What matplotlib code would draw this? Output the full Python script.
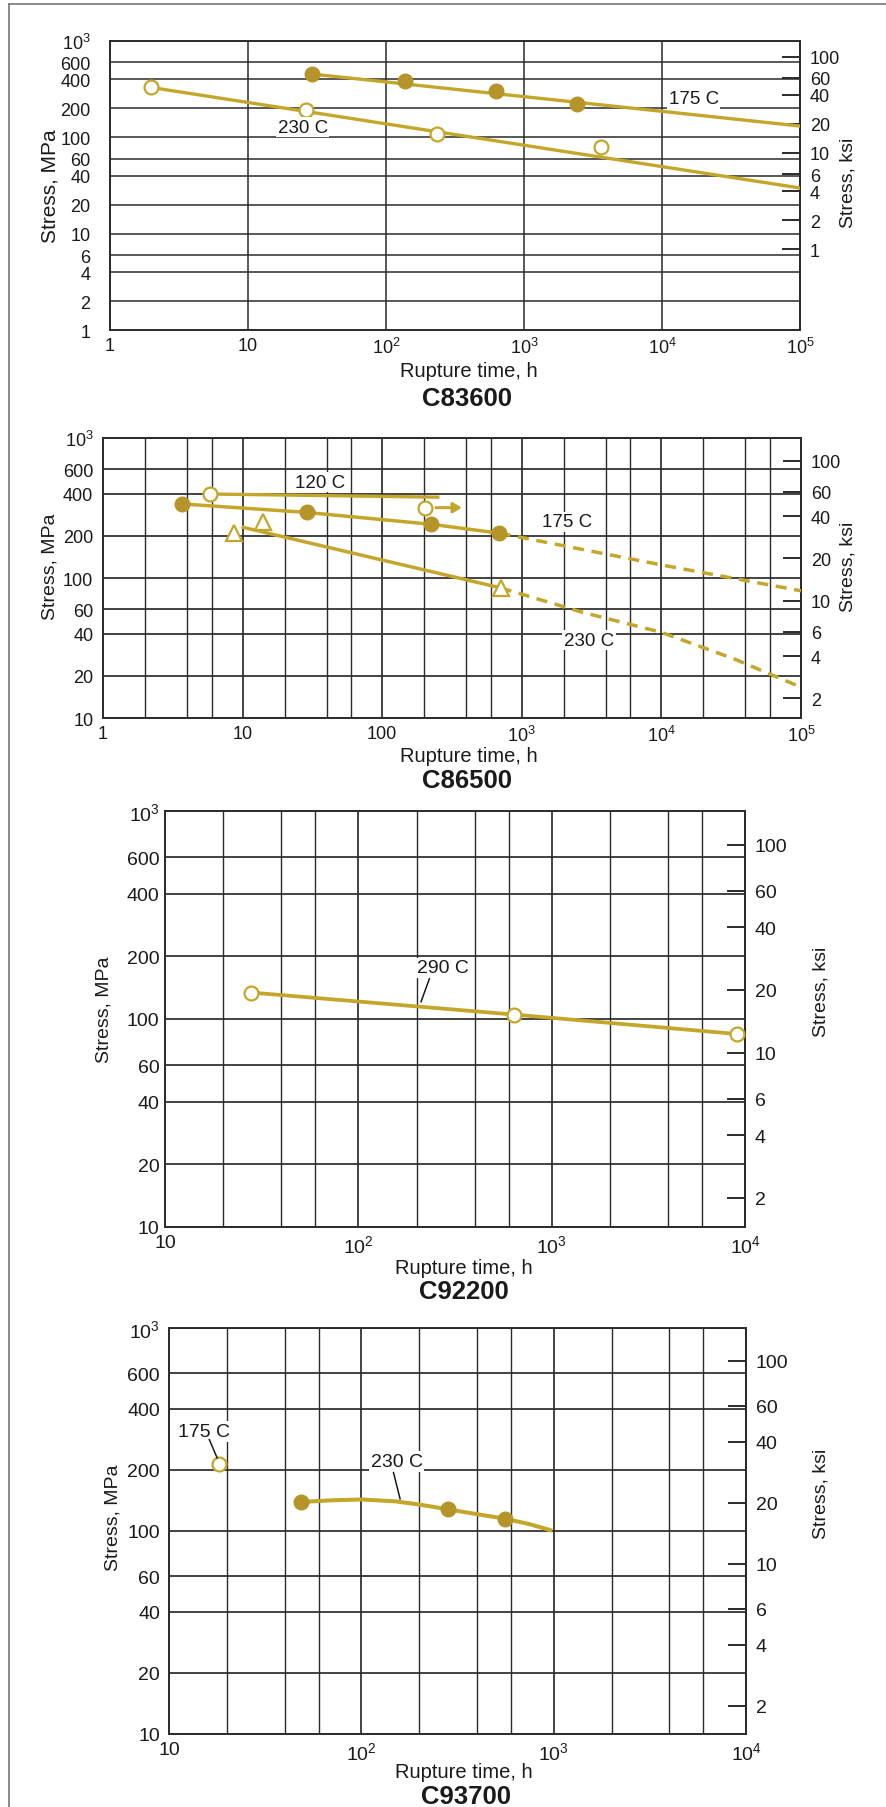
import numpy as np
import matplotlib
matplotlib.use("Agg")
import matplotlib.pyplot as plt
from matplotlib.lines import Line2D
from matplotlib.ticker import FixedLocator, NullLocator

plt.rcParams["font.family"] = ["Liberation Sans", "DejaVu Sans"]
plt.rcParams["mathtext.fontset"] = "custom"
plt.rcParams["mathtext.rm"] = "Liberation Sans"

W, H = 886, 1808
GOLD = "#c3a62a"
GOLD_DARK = "#b5952a"
GRID = "#2b2b2b"
MPA_PER_KSI = 6.895

# ---- C83600 ----
c836_175_t = [29, 137, 627, 2420]
c836_175_s = [454, 387, 301, 220]
c836_175_fit_t = [29, 1e5]
c836_175_fit_s = [454, 131]
c836_230_t = [1.97, 26.2, 233, 3590]
c836_230_s = [330, 194, 108, 79]
c836_230_fit_t = [1.97, 1e5]
c836_230_fit_s = [330, 29.8]

# ---- C86500 ----
c865_120_t = [5.84]
c865_120_s = [398]
c865_120_line_t = [5.84, 250]
c865_120_line_s = [398, 378]
c865_120_runout_t = [202]
c865_120_runout_s = [318]
c865_175_t = [3.7, 28.8, 224, 692]
c865_175_s = [338, 294, 242, 209]
c865_175_ext_t = [692, 1e4, 1e5]
c865_175_ext_s = [209, 124, 81]
c865_230_t = [8.73, 14.1, 705]
c865_230_s = [210, 250, 85]
c865_230_line_t = [10.1, 705]
c865_230_line_s = [230, 85]
c865_230_ext_t = [705, 2700, 9930, 33300, 1e5]
c865_230_ext_s = [85, 57, 41, 26.4, 16.6]

# ---- C92200 ----
c922_290_t = [28, 640, 9100]
c922_290_s = [134, 105, 84.7]

# ---- C93700 ----
c937_175_t = [18.2]
c937_175_s = [215]
c937_230_t = [48.4, 281, 560]
c937_230_s = [139, 128, 115]
c937_230_curve_t = [48.4, 70, 100, 150, 200, 281, 400, 560, 750, 960]
c937_230_curve_s = [139, 141.6, 143, 140, 135, 128, 121, 115, 108, 101]

y_grid_1 = [1, 2, 4, 6, 10, 20, 40, 60, 100, 200, 400, 600, 1000]
y_labels_1 = ["1", "2", "4", "6", "10", "20", "40", "60", "100", "200", "400", "600", r"$\mathregular{10^3}$"]
y_grid_2 = [10, 20, 40, 60, 100, 200, 400, 600, 1000]
y_labels_2 = ["10", "20", "40", "60", "100", "200", "400", "600", r"$\mathregular{10^3}$"]
ksi_ticks_1 = [1, 2, 4, 6, 10, 20, 40, 60, 100]
ksi_ticks_2 = [2, 4, 6, 10, 20, 40, 60, 100]
x_dec_1 = [1, 10, 100, 1000, 1e4, 1e5]
x_lab_1 = ["1", "10", r"$\mathregular{10^2}$", r"$\mathregular{10^3}$", r"$\mathregular{10^4}$", r"$\mathregular{10^5}$"]
x_lab_2 = ["1", "10", "100", r"$\mathregular{10^3}$", r"$\mathregular{10^4}$", r"$\mathregular{10^5}$"]
x_dec_3 = [10, 100, 1000, 1e4]
x_lab_3 = ["10", r"$\mathregular{10^2}$", r"$\mathregular{10^3}$", r"$\mathregular{10^4}$"]
minor_mult = [2, 4, 6]


def fx(x):
    return x / W


def fy(y):
    return 1 - y / H


def make_axes(fig, l, t, r, b):
    return fig.add_axes([fx(l), fy(b), (r - l) / W, (b - t) / H])


def setup(ax, xdec, xlab, ygrid, ylab, ksi, ypad, xminor, fs):
    ax.set_xscale("log")
    ax.set_yscale("log")
    ax.set_xlim(xdec[0], xdec[-1])
    ax.set_ylim(ygrid[0], ygrid[-1])
    ax.xaxis.set_major_locator(FixedLocator(xdec))
    ax.set_xticklabels(xlab)
    if xminor:
        minors = [d * m for d in xdec[:-1] for m in minor_mult]
        ax.xaxis.set_minor_locator(FixedLocator(minors))
        ax.grid(True, which="minor", axis="x", color=GRID, lw=1.0)
    else:
        ax.xaxis.set_minor_locator(NullLocator())
    ax.yaxis.set_major_locator(FixedLocator(ygrid))
    ax.yaxis.set_minor_locator(NullLocator())
    ax.set_yticklabels(ylab)
    ax.grid(True, which="major", axis="both", color=GRID, lw=1.25 if xminor else 1.1)
    ax.tick_params(which="both", length=0, labelsize=fs, colors="#1a1a1a")
    ax.tick_params(axis="y", pad=ypad)
    ax.tick_params(axis="x", pad=5)
    for sp in ax.spines.values():
        sp.set_color(GRID)
        sp.set_linewidth(1.4)
    ax.set_axisbelow(True)

    sec = ax.secondary_yaxis("right", functions=(lambda m: m / MPA_PER_KSI,
                                                  lambda k: k * MPA_PER_KSI))
    sec.yaxis.set_major_locator(FixedLocator(ksi))
    sec.yaxis.set_minor_locator(NullLocator())
    sec.set_yticklabels([str(k) for k in ksi])
    sec.tick_params(axis="y", direction="in", length=13, width=1.4, color=GRID,
                    pad=7, labelsize=fs, labelcolor="#1a1a1a")
    sec.spines["right"].set_color(GRID)
    sec.spines["right"].set_linewidth(1.4)
    return sec


def label(ax, x, y, s, fs=13.5):
    ax.text(x, y, s, fontsize=fs, ha="center", va="center", color="#1a1a1a", zorder=6,
            bbox=dict(boxstyle="square,pad=0.08", fc="white", ec="none"))


def filled(ax, t, s):
    ax.plot(t, s, "o", ms=10.5, mfc=GOLD_DARK, mec=GOLD_DARK, zorder=5)


def hollow(ax, t, s, marker="o"):
    ax.plot(t, s, marker, ms=10 if marker == "o" else 11, mfc="white", mec=GOLD, mew=1.6, zorder=5)


fig = plt.figure(figsize=(W / 100, H / 100), dpi=100)
fig.patch.set_facecolor("white")

# frame remnants of the scanned page
fig.add_artist(Line2D([fx(9), fx(9)], [0, fy(5)], transform=fig.transFigure, color="#777777", lw=1.2))
fig.add_artist(Line2D([fx(9), 1], [fy(5), fy(5)], transform=fig.transFigure, color="#777777", lw=1.2))

# ---------------- C83600 ----------------
ax1 = make_axes(fig, 110, 42, 800, 331)
setup(ax1, x_dec_1, x_lab_1, y_grid_1, y_labels_1, ksi_ticks_1, 14, False, 13)
ax1.plot(c836_175_fit_t, c836_175_fit_s, color=GOLD, lw=2.4, zorder=4)
filled(ax1, c836_175_t, c836_175_s)
ax1.plot(c836_230_fit_t, c836_230_fit_s, color=GOLD, lw=2.4, zorder=4)
hollow(ax1, c836_230_t, c836_230_s)
label(ax1, 17000, 250, "175 C")
label(ax1, 25, 128, "230 C")

# ---------------- C86500 ----------------
ax2 = make_axes(fig, 103, 439, 801, 719)
setup(ax2, x_dec_1, x_lab_2, y_grid_2, y_labels_2, ksi_ticks_2, 7, True, 13)
ax2.plot(c865_120_line_t, c865_120_line_s, color=GOLD, lw=2.4, zorder=4)
hollow(ax2, c865_120_t, c865_120_s)
hollow(ax2, c865_120_runout_t, c865_120_runout_s)
ax2.annotate("", xy=(390, c865_120_runout_s[0]), xytext=(232, c865_120_runout_s[0]),
             arrowprops=dict(arrowstyle="-|>,head_length=0.5,head_width=0.3", color=GOLD, lw=2.2),
             zorder=5)
ax2.plot(c865_175_t, c865_175_s, color=GOLD, lw=2.5, zorder=4)
ax2.plot(c865_175_ext_t, c865_175_ext_s, color=GOLD, lw=2.5, ls=(0, (3.2, 2.2)), zorder=4)
filled(ax2, c865_175_t, c865_175_s)
ax2.plot(c865_230_line_t, c865_230_line_s, color=GOLD, lw=2.5, zorder=4)
ax2.plot(c865_230_ext_t, c865_230_ext_s, color=GOLD, lw=2.5, ls=(0, (3.2, 2.2)), zorder=4)
hollow(ax2, c865_230_t, c865_230_s, "^")
label(ax2, 36, 482, "120 C")
label(ax2, 2100, 253, "175 C")
label(ax2, 3030, 36, "230 C")

# ---------------- C92200 ----------------
ax3 = make_axes(fig, 165, 812, 745, 1228)
setup(ax3, x_dec_3, x_lab_3, y_grid_2, y_labels_2, ksi_ticks_2, 4, True, 14)
ax3.plot(c922_290_t, c922_290_s, color=GOLD, lw=2.7, zorder=4)
hollow(ax3, c922_290_t, c922_290_s)
label(ax3, 275, 176, "290 C", 14)
ax3.plot([233, 211], [156, 121], color="#1a1a1a", lw=1.1, zorder=6)

# ---------------- C93700 ----------------
ax4 = make_axes(fig, 169, 1329, 746, 1735)
setup(ax4, x_dec_3, x_lab_3, y_grid_2, y_labels_2, ksi_ticks_2, 6.5, True, 14)
ax4.plot(c937_230_curve_t, c937_230_curve_s, color=GOLD, lw=2.9, zorder=4)
filled(ax4, c937_230_t, c937_230_s)
hollow(ax4, c937_175_t, c937_175_s)
label(ax4, 15.2, 309, "175 C", 14)
ax4.plot([16.2, 17.8], [282, 229], color="#1a1a1a", lw=1.1, zorder=6)
label(ax4, 153, 220, "230 C", 14)
ax4.plot([147, 159], [194, 144], color="#1a1a1a", lw=1.1, zorder=6)

# ---------------- axis titles ----------------
panels = [
    # (mpa_x, mpa_y, ksi_x, ksi_y, xl_x, xl_y, title_x, title_y, title, mpa_fs)
    (50, 186, 848, 183, 469, 372, 467, 399, "C83600", 15),
    (50, 567, 848, 567, 469, 757, 467, 781, "C86500", 14),
    (104, 1010, 821, 992, 464, 1268, 464, 1292, "C92200", 14),
    (113, 1518, 821, 1494, 464, 1773, 466, 1797, "C93700", 14),
]
for mx, my, kx, ky, lx, ly, tx, ty, name, mfs in panels:
    fig.text(fx(mx), fy(my), "Stress, MPa", rotation=90, fontsize=mfs, ha="center", va="center", color="#1a1a1a")
    fig.text(fx(kx), fy(ky), "Stress, ksi", rotation=90, fontsize=14, ha="center", va="center", color="#1a1a1a")
    fig.text(fx(lx), fy(ly), "Rupture time, h", fontsize=14.5, ha="center", va="center", color="#1a1a1a")
    fig.text(fx(tx), fy(ty), name, fontsize=18.5, fontweight="bold", ha="center", va="center", color="#1a1a1a")

fig.savefig("out.png", dpi=100, facecolor="white")
